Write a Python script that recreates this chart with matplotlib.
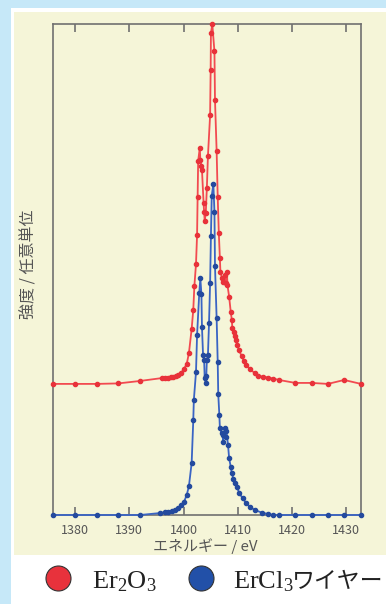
import matplotlib
matplotlib.use("Agg")
import matplotlib.pyplot as plt
from matplotlib.patches import Rectangle
from matplotlib.lines import Line2D

plt.rcParams['font.family'] = ['Noto Sans CJK JP', 'DejaVu Sans']
plt.rcParams['mathtext.fontset'] = 'custom'
plt.rcParams['mathtext.rm'] = 'Liberation Serif'
plt.rcParams['mathtext.it'] = 'Liberation Serif:italic'

# ---------------- data (energy eV, intensity arb. units) ----------------
er2o3_energy = [1375.9, 1380.0, 1384.0, 1388.0, 1392.0, 1396.1, 1396.6, 1397.2, 1397.7,
                1398.1, 1398.6, 1399.0, 1399.6, 1400.1, 1400.6, 1401.0, 1401.5, 1401.8,
                1402.0, 1402.3, 1402.5, 1402.6, 1402.7, 1403.0, 1403.1, 1403.3, 1403.4,
                1403.7, 1403.8, 1403.9, 1404.1, 1404.3, 1404.5, 1404.9, 1405.0, 1405.05,
                1405.3, 1405.7, 1405.8, 1406.1, 1406.3, 1406.5, 1406.7, 1406.8, 1407.1,
                1407.3, 1407.6, 1407.8, 1408.0, 1408.1, 1408.4, 1408.7, 1408.9, 1409.0,
                1409.3, 1409.5, 1409.65, 1409.9, 1410.2, 1410.7, 1411.1, 1411.6, 1412.2,
                1413.15, 1413.8, 1414.7, 1415.6, 1416.5, 1417.6, 1420.6, 1423.6, 1426.6,
                1429.6, 1432.7]
er2o3_intensity = [26.7, 26.7, 26.7, 26.8, 27.3, 27.9, 28.0, 28.0, 28.1,
                   28.2, 28.3, 28.5, 29.0, 29.8, 30.8, 33.0, 37.9, 41.8,
                   46.6, 51.1, 57.1, 64.8, 72.1, 74.8, 72.3, 71.1, 70.3,
                   63.5, 61.7, 59.9, 61.5, 66.6, 73.1, 81.4, 90.6, 98.1,
                   100.0, 94.4, 84.5, 74.2, 64.8, 57.5, 52.3, 49.5, 48.2,
                   47.5, 48.9, 47.3, 49.5, 46.8, 44.5, 41.4, 39.7, 38.0,
                   37.3, 36.5, 35.6, 34.6, 33.6, 32.4, 31.4, 30.6, 29.7,
                   28.9, 28.3, 28.2, 28.0, 27.8, 27.5, 26.9, 26.9, 26.7,
                   27.5, 26.7]

ercl3_energy = [1375.9, 1380.0, 1384.0, 1388.0, 1392.0, 1395.7, 1396.6, 1397.2, 1397.8,
                1398.4, 1399.0, 1399.6, 1400.1, 1400.6, 1401.0, 1401.5, 1401.8, 1401.9,
                1402.3, 1402.5, 1402.9, 1403.1, 1403.3, 1403.4, 1403.6, 1403.8, 1403.9,
                1404.1, 1404.2, 1404.3, 1404.5, 1404.7, 1404.9, 1405.05, 1405.2, 1405.5,
                1405.7, 1405.8, 1406.1, 1406.3, 1406.4, 1406.6, 1406.7, 1407.0, 1407.2,
                1407.3, 1407.6, 1407.8, 1407.9, 1408.2, 1408.4, 1408.7, 1408.9, 1409.2,
                1409.5, 1409.8, 1410.3, 1410.9, 1411.5, 1412.2, 1413.15, 1414.4, 1415.6,
                1416.5, 1417.6, 1420.6, 1423.6, 1426.6, 1429.6, 1432.7]
ercl3_intensity = [0.0, 0.0, 0.0, 0.0, 0.0, 0.4, 0.6, 0.7, 0.8,
                   1.0, 1.4, 2.0, 2.7, 4.1, 5.9, 10.6, 19.3, 23.4,
                   29.1, 36.7, 45.2, 48.2, 45.0, 38.3, 32.6, 31.6, 27.9,
                   26.9, 28.3, 31.6, 32.6, 39.1, 47.2, 56.8, 65.0, 67.4,
                   61.7, 50.7, 40.1, 31.2, 24.6, 20.4, 17.7, 16.7, 16.3,
                   14.9, 17.7, 15.9, 17.1, 14.3, 11.6, 9.8, 8.5, 7.3,
                   6.5, 5.8, 4.4, 3.4, 2.5, 1.7, 1.0, 0.5, 0.2,
                   0.0, 0.0, 0.0, 0.0, 0.0, 0.0, 0.0]

xticks = [1380, 1390, 1400, 1410, 1420, 1430]
xlabel = "エネルギー / eV"
ylabel = "強度 / 任意単位"
legend_labels = [r"$\mathrm{Er_2O_3}$", r"$\mathrm{ErCl_3}$"]
legend_suffix = "ワイヤー"

# ---------------- styles ----------------
W, H = 386, 604
BG_BLUE = "#c6e8f8"
CREAM = "#f5f5d8"
RED_LINE = "#f24a50"
RED_MK = "#e8323a"
BLUE_LINE = "#3a64c4"
BLUE_MK = "#244a9e"
FRAME = "#707070"
TEXT = "#555555"

fig = plt.figure(figsize=(W / 100, H / 100), dpi=100)
fig.patch.set_facecolor(BG_BLUE)

def fx(px):
    return px / W

def fy(py):
    return 1 - py / H

# white card and cream panel
fig.patches.append(Rectangle((fx(11), 0), 1 - fx(11), fy(8), transform=fig.transFigure,
                             facecolor="white", edgecolor="none", zorder=-20))
fig.patches.append(Rectangle((fx(13.5), fy(555)), 1 - fx(13.5), fy(11.5) - fy(555),
                             transform=fig.transFigure, facecolor=CREAM, edgecolor="none", zorder=-10))

ax = fig.add_axes([fx(52.7), fy(515), fx(361) - fx(52.7), fy(24) - fy(515)])
ax.set_facecolor("none")
ax.set_zorder(5)

ax.plot(er2o3_energy, er2o3_intensity, color=RED_LINE, lw=1.3, marker="o", ms=3.0,
        mfc=RED_MK, mec=RED_MK, clip_on=False, zorder=3)
ax.plot(ercl3_energy, ercl3_intensity, color=BLUE_LINE, lw=1.3, marker="o", ms=3.0,
        mfc=BLUE_MK, mec=BLUE_MK, clip_on=False, zorder=4)

ax.set_xlim(1375.9, 1432.7)
ax.set_ylim(0, 100)
ax.set_xticks(xticks)
ax.set_yticks([])
ax.tick_params(axis="x", direction="in", length=6, width=1.2, color=FRAME,
               top=True, bottom=True, pad=6.5, labelsize=9, labelcolor=TEXT)
for s in ax.spines.values():
    s.set_color(FRAME)
    s.set_linewidth(1.2)
    s.set_zorder(2)

fig.text(fx(205.5), fy(546), xlabel, ha="center", va="center", fontsize=10.8, color=TEXT)
fig.text(fx(29), fy(264), ylabel, ha="center", va="center", rotation=90, fontsize=11.5, color=TEXT)

# legend
for cx, col in [(57.5, "#e8323c"), (200.8, "#2250a8")]:
    fig.add_artist(Line2D([fx(cx)], [fy(578)], marker="o", ms=18, mfc=col, mec="#333333",
                          mew=0.8, transform=fig.transFigure, linestyle="none"))
fig.text(fx(91.5), fy(588), legend_labels[0], fontsize=19, color="#222222", va="baseline", ha="left")
fig.text(fx(233), fy(588), legend_labels[1], fontsize=19, color="#222222", va="baseline", ha="left")
fig.text(fx(292), fy(588), legend_suffix, fontsize=16.5, color="#222222", va="baseline", ha="left")

fig.savefig("out.png", dpi=100, facecolor=fig.get_facecolor())
